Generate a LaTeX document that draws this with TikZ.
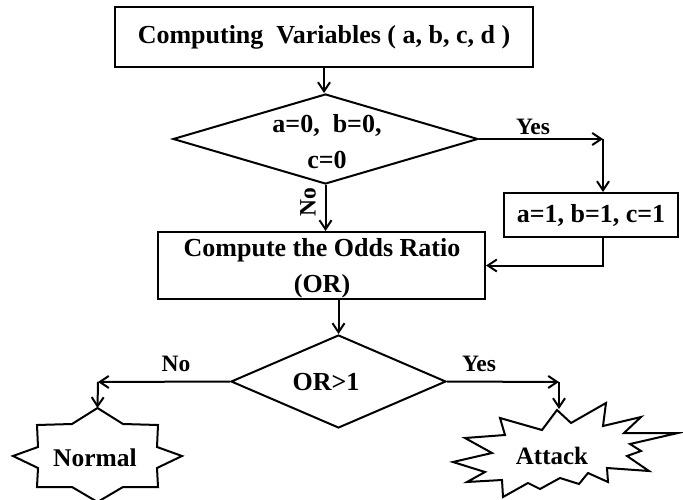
\documentclass[tikz,border=0pt]{standalone}
\usepackage{fontspec}
\setmainfont{Liberation Serif}
\usetikzlibrary{arrows.meta,shapes.geometric}
\newcommand\flowtxt{\fontsize{26}{36}\selectfont\bfseries}
\newcommand\flowlbl{\fontsize{23.5}{28}\selectfont\bfseries}
\begin{document}
\begin{tikzpicture}[x=1pt,y=-1pt,
  line width=2pt,
  arr/.style={-{Straight Barb[length=9pt,width=12pt]}},
  procbox/.style={draw,rectangle,inner sep=0pt,font=\flowtxt,align=center},
  decision/.style={draw,diamond,inner sep=0pt},
  txt/.style={inner sep=0pt,font=\flowtxt,align=center},
  lbl/.style={inner sep=0pt,font=\flowlbl},
  burst/.style={line join=miter}]

% canvas
\fill[white] (0,0) rectangle (683,500);
\useasboundingbox (0,0) rectangle (683,500);

% process boxes
\node[procbox,minimum width=418pt,minimum height=60pt] (top) at (324,37)
  {Computing\ \ Variables ( a, b, c, d )};
\node[procbox,minimum width=174pt,minimum height=44pt] (rbox) at (591,215)
  {a=1, b=1, c=1};
\node[procbox,minimum width=327pt,minimum height=67pt] (mid) at (321.5,265.5) {};
\node[txt] (midtxt) at (322,268.5) {Compute the Odds Ratio\\(OR)};

% decisions
\node[decision,minimum width=305pt,minimum height=90pt] (d1) at (325.5,139) {};
\node[txt] (d1txt) at (327,142) {a=0,\ \ b=0,\\c=0};
\node[decision,minimum width=215pt,minimum height=93pt] (d2) at (338.5,381.5) {};
\node[txt] (d2txt) at (326,382) {OR>1};

% outcome bursts
\draw[burst] (97.5,408) -- (72,424) -- (37,425) -- (38,447) -- (13,456) -- (38,468)
  -- (37,487) -- (72,487) -- (97.5,502) -- (123,487) -- (158,487) -- (157,468)
  -- (182,456) -- (157,447) -- (158,425) -- (123,424) -- cycle;
\coordinate (normaltop) at (97.5,408);
\node[txt,font=\fontsize{25.5}{30}\selectfont\bfseries] (normal) at (95,458) {Normal};

\draw[burst] (557,410) -- (571,423) -- (606,403) -- (603,426) -- (641,417) -- (624,433)
  -- (678,433) -- (630,444) -- (641,451) -- (627,456) -- (649,471) -- (607,468)
  -- (608,482) -- (588,473) -- (579,484) -- (560,478) -- (540,489) -- (528,483)
  -- (503,497) -- (502,480) -- (467,482) -- (485,472) -- (453,462) -- (492,453)
  -- (465,438) -- (505,435) -- (500,418) -- (542,430) -- cycle;
\coordinate (attacktop) at (559,409);
\node[txt,font=\fontsize{25}{30}\selectfont\bfseries] (attack) at (552,456) {Attack};

% corners of the branch lines
\coordinate (c1) at (603,139);
\coordinate (c2) at (98,382);
\coordinate (c3) at (559,382);

% connectors
\draw[arr] (top.south) -- (top.south |- d1.north);
\draw[arr] (d1.east) -- (c1);
\draw[arr] (c1) -- (c1 |- rbox.north);
\draw[arr] (d1.south) -- (d1.south |- mid.north);
\draw[arr] (c1 |- rbox.south) |- (mid.east);
\draw[arr] (d2.north |- mid.south) -- (d2.north);
\draw[arr] (d2.west) -- (c2);
\draw[arr] (c2) -- (normaltop);
\draw[arr] (d2.east) -- (c3);
\draw[arr] (c3) -- (attacktop);

% branch labels
\node[lbl] (yes1) at (533,127) {Yes};
\node[lbl,rotate=90] (no1) at (308,202) {No};
\node[lbl] (no2) at (176,364) {No};
\node[lbl] (yes2) at (479,364) {Yes};
\end{tikzpicture}
\end{document}
